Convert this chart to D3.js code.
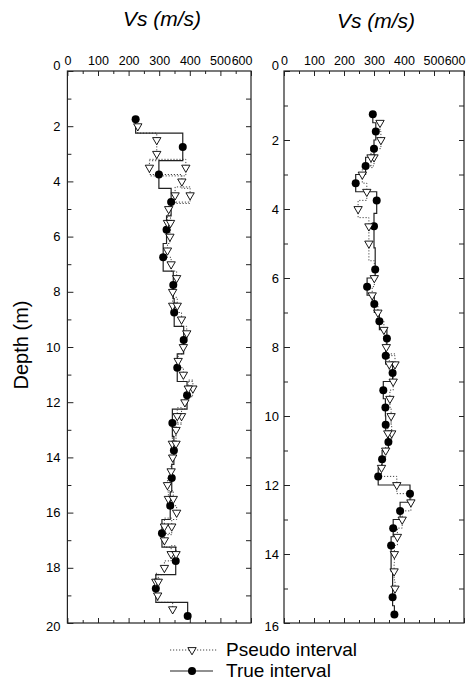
<!DOCTYPE html>
<html>
<head>
<meta charset="utf-8">
<script src="https://cdn.jsdelivr.net/npm/d3@7/dist/d3.min.js"></script>
<style>
  body { margin: 0; background: #fff; }
  svg text { font-family: Arial, "Liberation Sans", sans-serif; fill: #000; }
</style>
</head>
<body>
<svg width="476" height="683"></svg>
<script>
// ---- left profile, depth 0-20 m ----
var trueDepthA = [1.75, 2.75, 3.75, 4.75, 5.75, 6.75, 7.75, 8.75, 9.75, 10.75, 11.75, 12.75, 13.75, 14.75, 15.75, 16.75, 17.75, 18.75, 19.75];
var trueVsA = [223, 377, 299, 339, 324, 313, 346, 349, 380, 359, 391, 343, 348, 341, 336, 309, 354, 289, 393];

var pseudoDepthA = [2, 2.5, 3, 3.5, 4, 4.5, 5, 5.5, 6, 6.5, 7, 7.5, 8, 8.5, 9, 9.5, 10, 10.5, 11, 11.5, 12, 12.5, 13, 13.5, 14, 14.5, 15, 15.5, 16, 16.5, 17, 17.5, 18, 18.5, 19, 19.5];
var pseudoVsA = [230, 292, 292, 268, 374, 401, 331, 327, 335, 327, 339, 357, 344, 344, 373, 390, 379, 362, 379, 410, 384, 373, 355, 343, 344, 339, 327, 330, 357, 341, 317, 339, 317, 289, 295, 344];

// second pseudo estimate at the same depth
var extraDepthA = [3.5, 4.5, 5.5, 8.5, 11.5, 12.5, 13.5, 15.5, 16.5, 17.5, 18.5];
var extraVsA = [387, 352, 337, 359, 395, 359, 355, 346, 317, 355, 297];

// ---- right profile, depth 0-16 m ----
var trueDepthB = [1.25, 1.75, 2.25, 2.75, 3.25, 3.75, 4.5, 5.75, 6.25, 6.75, 7.25, 7.75, 8.25, 8.75, 9.25, 9.75, 10.25, 10.75, 11.25, 11.75, 12.25, 12.75, 13.25, 13.75, 15.25, 15.75];
var trueVsB = [296, 306, 300, 272, 239, 309, 300, 304, 277, 301, 318, 343, 339, 362, 331, 338, 339, 348, 327, 314, 420, 387, 364, 357, 362, 368];

var pseudoDepthB = [1.5, 2, 2.5, 3, 3.5, 4, 4.5, 5, 6, 6.5, 7, 7.5, 8, 8.5, 9, 9.5, 10, 10.5, 11, 11.5, 12, 12.5, 13, 13.5, 14, 14.5, 15];
var pseudoVsB = [320, 323, 300, 261, 276, 247, 283, 283, 301, 294, 313, 333, 341, 370, 364, 353, 357, 359, 339, 325, 376, 423, 394, 378, 368, 367, 370];

var extraDepthB = [2.5, 8.5, 10.5];
var extraVsB = [290, 351, 346];

var vsTicks = [0, 100, 200, 300, 400, 500, 600];
var titleText = 'Vs (m/s)';
var yTitle = 'Depth (m)';
var legendLabels = ['Pseudo interval', 'True interval'];

var svg = d3.select('svg');

var panels = [
  { left: 67.4, right: 251, top: 71, bottom: 623, maxDepth: 20, labelPad: 7, titleY: 26, titleX: 162,
    trueD: trueDepthA, trueV: trueVsA, pD: pseudoDepthA, pV: pseudoVsA, eD: extraDepthA, eV: extraVsA },
  { left: 284, right: 464, top: 71, bottom: 623, maxDepth: 16, labelPad: 5, titleY: 28, titleX: 376,
    trueD: trueDepthB, trueV: trueVsB, pD: pseudoDepthB, pV: pseudoVsB, eD: extraDepthB, eV: extraVsB }
];

var triangle = d3.symbol().type(d3.symbolTriangle).size(30);

// step line: each value spans from midpoint to midpoint of its neighbours
function stepPoints(depths, vs) {
  var pts = [];
  depths.forEach(function(d, i) {
    var top = i === 0 ? d : (depths[i - 1] + d) / 2;
    var bot = i === depths.length - 1 ? d : (d + depths[i + 1]) / 2;
    pts.push([vs[i], top], [vs[i], bot]);
  });
  return pts;
}

function drawPanel(p) {
  var x = d3.scaleLinear().domain([0, 600]).range([p.left, p.right]);
  var y = d3.scaleLinear().domain([0, p.maxDepth]).range([p.top, p.bottom]);
  var g = svg.append('g');

  var line = d3.line()
    .x(function(d) { return x(d[0]); })
    .y(function(d) { return y(d[1]); });

  // frame
  g.append('rect')
    .attr('x', p.left).attr('y', p.top)
    .attr('width', p.right - p.left).attr('height', p.bottom - p.top)
    .attr('fill', 'none').attr('stroke', '#222').attr('stroke-width', 1.2);

  var minorV = d3.range(50, 600, 100);
  var allDepth = d3.range(1, p.maxDepth);
  var evenDepth = d3.range(0, p.maxDepth + 1, 2);
  var oddDepth = d3.range(1, p.maxDepth, 2);

  function clean(sel) {
    sel.select('.domain').remove();
    sel.selectAll('line').attr('stroke', '#222');
    sel.selectAll('text').attr('font-size', 12.5);
  }

  // top axis with labels
  g.append('g').attr('transform', 'translate(0,' + p.top + ')')
    .call(d3.axisTop(x).tickValues(vsTicks).tickSize(-5).tickPadding(6))
    .call(clean)
    .selectAll('text')
    .attr('text-anchor', function(d) { return d === 600 ? 'end' : 'middle'; })
    .attr('dx', function(d) { return d === 600 ? 1 : (d === 500 ? -0.5 : 0); });
  g.append('g').attr('transform', 'translate(0,' + p.top + ')')
    .call(d3.axisTop(x).tickValues(minorV).tickSize(-3).tickFormat(''))
    .call(clean);

  // bottom ticks
  g.append('g').attr('transform', 'translate(0,' + p.bottom + ')')
    .call(d3.axisBottom(x).tickValues(vsTicks).tickSize(-5).tickFormat(''))
    .call(clean);
  g.append('g').attr('transform', 'translate(0,' + p.bottom + ')')
    .call(d3.axisBottom(x).tickValues(minorV).tickSize(-3).tickFormat(''))
    .call(clean);

  // left depth axis
  g.append('g').attr('transform', 'translate(' + p.left + ',0)')
    .call(d3.axisLeft(y).tickValues(evenDepth).tickSize(-6).tickPadding(p.labelPad))
    .call(clean)
    .selectAll('text')
    .attr('font-size', 13)
    .attr('dy', function(d) { return d === 0 ? '-0.15em' : (d === p.maxDepth ? '0.55em' : '0.32em'); });
  g.append('g').attr('transform', 'translate(' + p.left + ',0)')
    .call(d3.axisLeft(y).tickValues(oddDepth).tickSize(-4).tickFormat(''))
    .call(clean);

  // right edge ticks
  g.append('g').attr('transform', 'translate(' + p.right + ',0)')
    .call(d3.axisRight(y).tickValues(allDepth).tickSize(-5).tickFormat(''))
    .call(clean);

  // title
  g.append('text')
    .attr('x', p.titleX)
    .attr('y', p.titleY)
    .attr('text-anchor', 'middle')
    .attr('font-size', 21)
    .attr('font-style', 'italic')
    .text(titleText);

  // pseudo interval: dotted step line
  g.append('path')
    .attr('d', line(stepPoints(p.pD, p.pV)))
    .attr('fill', 'none')
    .attr('stroke', '#444')
    .attr('stroke-width', 1)
    .attr('stroke-dasharray', '1.2,1.8');

  // second pseudo estimates: dotted box against the main value
  p.eD.forEach(function(d, i) {
    var j = p.pD.indexOf(d);
    var vMain = p.pV[j];
    var pts = [[vMain, d - 0.3], [p.eV[i], d - 0.3], [p.eV[i], d + 0.3], [vMain, d + 0.3]];
    g.append('path')
      .attr('d', line(pts))
      .attr('fill', 'none')
      .attr('stroke', '#444')
      .attr('stroke-width', 1)
      .attr('stroke-dasharray', '1.2,1.8');
  });

  // true interval: solid step line
  g.append('path')
    .attr('d', line(stepPoints(p.trueD, p.trueV)))
    .attr('fill', 'none')
    .attr('stroke', '#222')
    .attr('stroke-width', 1.2);

  // circles
  g.selectAll('circle.true')
    .data(p.trueD)
    .enter()
    .append('circle')
    .attr('cx', function(d, i) { return x(p.trueV[i]); })
    .attr('cy', function(d) { return y(d); })
    .attr('r', 4)
    .attr('fill', '#000');

  // triangles
  var tri = p.pD.map(function(d, i) { return [p.pV[i], d]; })
    .concat(p.eD.map(function(d, i) { return [p.eV[i], d]; }));
  g.selectAll('path.tri')
    .data(tri)
    .enter()
    .append('path')
    .attr('class', 'tri')
    .attr('d', triangle)
    .attr('transform', function(d) { return 'translate(' + x(d[0]) + ',' + y(d[1]) + ') rotate(180)'; })
    .attr('fill', '#fff')
    .attr('stroke', '#000')
    .attr('stroke-width', 0.9);
}

panels.forEach(drawPanel);

// y axis title
svg.append('text')
  .attr('transform', 'translate(28,345) rotate(-90)')
  .attr('text-anchor', 'middle')
  .attr('font-size', 20)
  .text(yTitle);

// legend
var legend = svg.append('g').attr('transform', 'translate(170,650)');
legend.append('line')
  .attr('x1', 0).attr('x2', 47).attr('y1', 0).attr('y2', 0)
  .attr('stroke', '#444').attr('stroke-dasharray', '1.2,1.8');
legend.append('path')
  .attr('d', triangle)
  .attr('transform', 'translate(22,0) rotate(180)')
  .attr('fill', '#fff').attr('stroke', '#000').attr('stroke-width', 0.9);
legend.append('line')
  .attr('x1', 0).attr('x2', 43).attr('y1', 21).attr('y2', 21)
  .attr('stroke', '#222').attr('stroke-width', 1.2);
legend.append('circle')
  .attr('cx', 22).attr('cy', 21).attr('r', 4).attr('fill', '#000');
legend.selectAll('text.lab')
  .data(legendLabels)
  .enter()
  .append('text')
  .attr('x', 56)
  .attr('y', function(d, i) { return 6 + i * 21; })
  .attr('font-size', 19)
  .text(function(d) { return d; });
</script>
</body>
</html>
